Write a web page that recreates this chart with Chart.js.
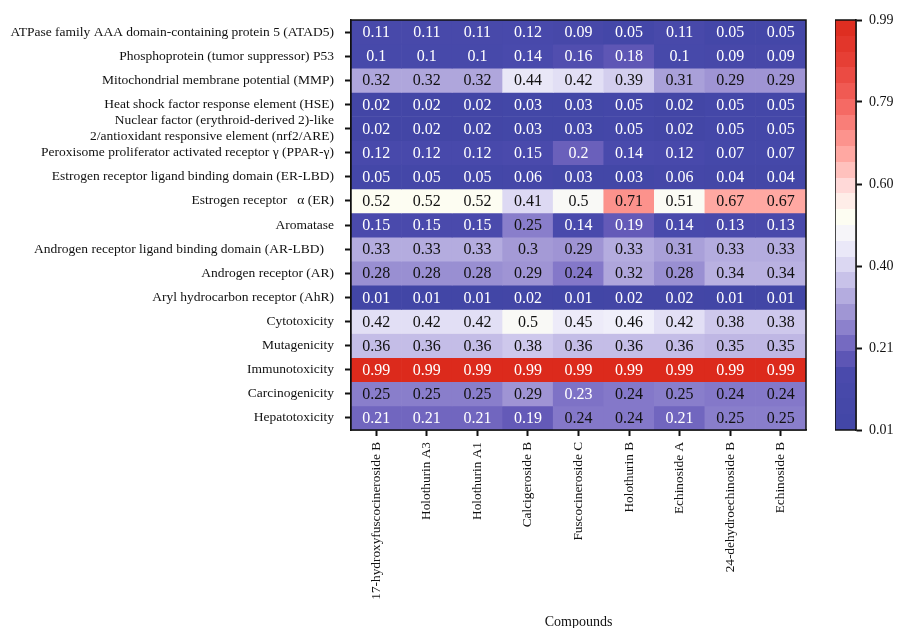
<!DOCTYPE html>
<html><head><meta charset="utf-8">
<script src="https://cdn.jsdelivr.net/npm/chart.js@4.4.1/dist/chart.umd.min.js"></script>
<style>
html,body{margin:0;padding:0;background:#fff;}
#wrap{position:relative;width:899px;height:628px;}
#main{position:absolute;left:0;top:0;width:899px;height:628px;}
#cbar{position:absolute;left:835px;top:0;width:64px;height:628px;}
</style></head><body>
<div id="wrap"><div id="main"><canvas id="c1"></canvas></div><div id="cbar"><canvas id="c2"></canvas></div></div>
<script>
// ---- data ----
const compounds = ["17-hydroxyfuscocineroside B","Holothurin A3","Holothurin A1","Calcigeroside B","Fuscocineroside C","Holothurin B","Echinoside A","24-dehydroechinoside B","Echinoside B"];
const endpoints = [
  "ATPase family AAA domain-containing protein 5 (ATAD5)",
  "Phosphoprotein (tumor suppressor) P53",
  "Mitochondrial membrane potential (MMP)",
  "Heat shock factor response element (HSE)",
  ["Nuclear factor (erythroid-derived 2)-like","2/antioxidant responsive element (nrf2/ARE)"],
  "Peroxisome proliferator activated receptor \u03b3 (PPAR-\u03b3)",
  "Estrogen receptor ligand binding domain (ER-LBD)",
  "Estrogen receptor   \u03b1 (ER)",
  "Aromatase",
  "Androgen receptor ligand binding domain (AR-LBD)   ",
  "Androgen receptor (AR)",
  "Aryl hydrocarbon receptor (AhR)",
  "Cytotoxicity",
  "Mutagenicity",
  "Immunotoxicity",
  "Carcinogenicity",
  "Hepatotoxicity"
];
const hydroxyfuscocinerosideB = [0.11,0.1,0.32,0.02,0.02,0.12,0.05,0.52,0.15,0.33,0.28,0.01,0.42,0.36,0.99,0.25,0.21];
const holothurinA3 = [0.11,0.1,0.32,0.02,0.02,0.12,0.05,0.52,0.15,0.33,0.28,0.01,0.42,0.36,0.99,0.25,0.21];
const holothurinA1 = [0.11,0.1,0.32,0.02,0.02,0.12,0.05,0.52,0.15,0.33,0.28,0.01,0.42,0.36,0.99,0.25,0.21];
const calcigerosideB = [0.12,0.14,0.44,0.03,0.03,0.15,0.06,0.41,0.25,0.3,0.29,0.02,0.5,0.38,0.99,0.29,0.19];
const fuscocinerosideC = [0.09,0.16,0.42,0.03,0.03,0.2,0.03,0.5,0.14,0.29,0.24,0.01,0.45,0.36,0.99,0.23,0.24];
const holothurinB = [0.05,0.18,0.39,0.05,0.05,0.14,0.03,0.71,0.19,0.33,0.32,0.02,0.46,0.36,0.99,0.24,0.24];
const echinosideA = [0.11,0.1,0.31,0.02,0.02,0.12,0.06,0.51,0.14,0.31,0.28,0.02,0.42,0.36,0.99,0.25,0.21];
const dehydroechinosideB = [0.05,0.09,0.29,0.05,0.05,0.07,0.04,0.67,0.13,0.33,0.34,0.01,0.38,0.35,0.99,0.24,0.25];
const echinosideB = [0.05,0.09,0.29,0.05,0.05,0.07,0.04,0.67,0.13,0.33,0.34,0.01,0.38,0.35,0.99,0.24,0.25];
const colorbarTicks = [0.01,0.206,0.402,0.598,0.794,0.99];
const colorbarMin = 0.01, colorbarMax = 0.99;

// ---- colour scale ----
const stops = [
  [0.01,66,70,166],[0.15,74,74,172],[0.19,100,90,184],[0.24,132,120,201],
  [0.30,164,154,214],[0.36,196,189,231],[0.42,226,223,245],[0.47,244,243,251],
  [0.52,253,253,242],[0.58,255,226,226],[0.67,255,168,162],[0.72,251,140,134],
  [0.79,244,102,96],[0.88,232,66,57],[0.99,220,42,28]
];
function colorFor(v){
  if (v <= stops[0][0]) return `rgb(${stops[0][1]},${stops[0][2]},${stops[0][3]})`;
  for (let i=1;i<stops.length;i++){
    if (v <= stops[i][0]){
      const a=stops[i-1], b=stops[i], t=(v-a[0])/(b[0]-a[0]);
      const c=[1,2,3].map(k=>Math.round(a[k]+(b[k]-a[k])*t));
      return `rgb(${c[0]},${c[1]},${c[2]})`;
    }
  }
  const l=stops[stops.length-1];
  return `rgb(${l[1]},${l[2]},${l[3]})`;
}
function textColorFor(v){ return (v < 0.235 || v > 0.9) ? '#ffffff' : '#111111'; }

const FONT = "'Liberation Serif','DejaVu Serif',serif";
const columns = [hydroxyfuscocinerosideB,holothurinA3,holothurinA1,calcigerosideB,fuscocinerosideC,holothurinB,echinosideA,dehydroechinosideB,echinosideB];
const matrix = endpoints.map((_, r) => columns.map(col => col[r]));

const datasets = endpoints.map((name, r) => ({
  label: Array.isArray(name) ? name.join(' ') : name,
  data: compounds.map(() => 1),
  backgroundColor: matrix[r].map(colorFor),
  borderWidth: 0,
  barPercentage: 1,
  categoryPercentage: 1,
  xAxisID: 'x',
  yAxisID: 'yv',
  stack: 'cells'
}));

const cellLabels = {
  id: 'cellLabels',
  afterDatasetsDraw(chart){
    const ctx = chart.ctx;
    ctx.save();
    ctx.font = `16px ${FONT}`;
    ctx.textAlign = 'center';
    ctx.textBaseline = 'middle';
    chart.data.datasets.forEach((ds, r) => {
      const meta = chart.getDatasetMeta(r);
      meta.data.forEach((el, c) => {
        const v = matrix[r][c];
        ctx.fillStyle = textColorFor(v);
        ctx.fillText(String(v), el.x, (el.y + el.base) / 2 + 1);
      });
    });
    const a = chart.chartArea;
    ctx.strokeStyle = '#111';
    ctx.lineWidth = 1.5;
    ctx.strokeRect(a.left, a.top, a.right - a.left, a.bottom - a.top);
    ctx.restore();
  }
};

new Chart(document.getElementById('c1'), {
  type: 'bar',
  data: { labels: compounds, datasets },
  options: {
    responsive: true, maintainAspectRatio: false, animation: false,
    layout: { padding: { top: 20, right: 93, bottom: 0, left: 0 } },
    plugins: { legend: { display: false }, tooltip: { enabled: false } },
    scales: {
      x: {
        type: 'category', position: 'bottom', stacked: true,
        grid: { display: true, drawOnChartArea: false, offset: false, tickLength: 6, tickColor: '#111', tickWidth: 2 },
        border: { display: true, color: '#111', width: 1.5 },
        ticks: { minRotation: 90, maxRotation: 90, autoSkip: false, padding: 6, color: '#111', font: { family: FONT, size: 13.3 } },
        title: { display: true, text: 'Compounds', color: '#111', font: { family: FONT, size: 14 }, padding: { top: 0, bottom: -3 } },
        afterFit(s){ s.height = 198; }
      },
      yv: { type: 'linear', min: 0, max: 17, reverse: true, stacked: true, display: false },
      y: {
        type: 'category', position: 'left', labels: endpoints, offset: true,
        grid: { display: true, drawOnChartArea: false, offset: false, tickLength: 6, tickColor: '#111', tickWidth: 2 },
        border: { display: true, color: '#111', width: 1.5 },
        ticks: { autoSkip: false, padding: 11, color: '#111', font: { family: FONT, size: 13.5, lineHeight: 1.2 } },
        afterFit(s){ s.width = 351; }
      }
    }
  },
  plugins: [cellLabels]
});

// ---- colour bar ----
const nBands = 26;
const cbFrame = {
  id: 'cbFrame',
  afterDatasetsDraw(chart){
    const a = chart.chartArea, ctx = chart.ctx;
    ctx.save();
    ctx.strokeStyle = '#111'; ctx.lineWidth = 1.5;
    ctx.strokeRect(a.left, a.top, a.right - a.left, a.bottom - a.top);
    ctx.restore();
  }
};
new Chart(document.getElementById('c2'), {
  type: 'bar',
  data: {
    labels: [''],
    datasets: [{
      data: [[colorbarMin, colorbarMax]],
      barPercentage: 1, categoryPercentage: 1, borderWidth: 0,
      backgroundColor(ctx){
        const ca = ctx.chart.chartArea;
        if (!ca) return '#888';
        const g = ctx.chart.ctx.createLinearGradient(0, ca.bottom, 0, ca.top);
        for (let i = 0; i < nBands; i++){
          const mid = colorbarMin + (i + 0.5) * (colorbarMax - colorbarMin) / nBands;
          const col = colorFor(mid);
          g.addColorStop(i / nBands, col);
          g.addColorStop((i + 1) / nBands, col);
        }
        return g;
      }
    }]
  },
  options: {
    responsive: true, maintainAspectRatio: false, animation: false,
    layout: { padding: { top: 20, right: 0, bottom: 198, left: 0 } },
    plugins: { legend: { display: false }, tooltip: { enabled: false } },
    scales: {
      x: { display: false },
      y: {
        type: 'linear', position: 'right', min: colorbarMin, max: colorbarMax,
        afterBuildTicks(s){ s.ticks = colorbarTicks.map(v => ({ value: v })); },
        grid: { display: true, drawOnChartArea: false, tickLength: 6, tickColor: '#111', tickWidth: 2 },
        border: { display: true, color: '#111', width: 1.5 },
        ticks: { padding: 7, color: '#111', font: { family: FONT, size: 14 }, callback: v => Number(v).toFixed(2) },
        afterFit(s){ s.width = 43; }
      }
    }
  },
  plugins: [cbFrame]
});
</script>
</body></html>
